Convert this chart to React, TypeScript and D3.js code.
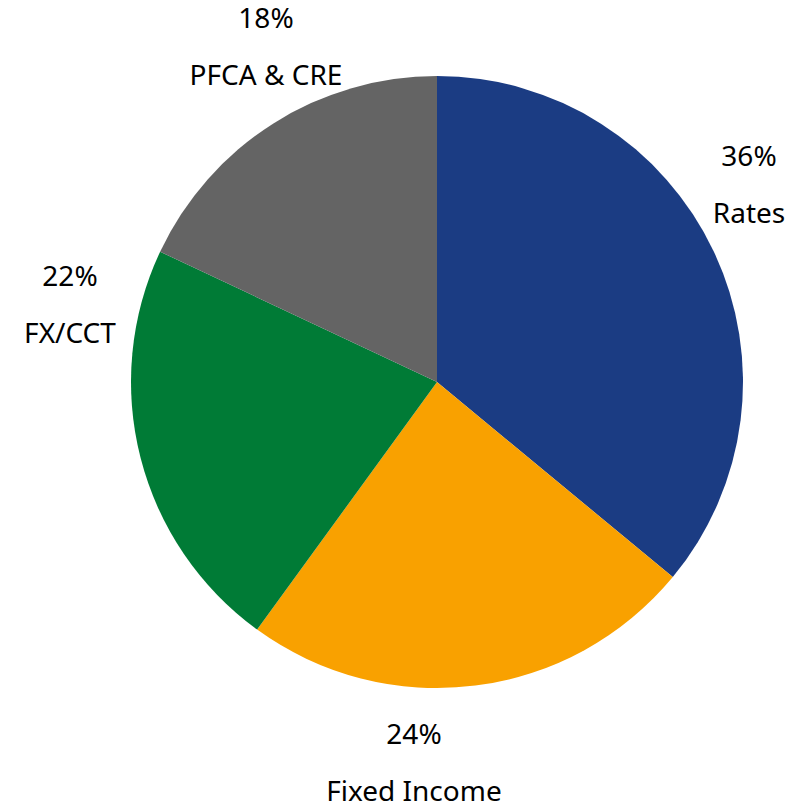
import React from "react";
import * as d3 from "d3";

// Share of total by business line (percent)
const categories = ["Rates", "Fixed Income", "FX/CCT", "PFCA & CRE"];
const shares = [36, 24, 22, 18];
const colors = ["#1B3C83", "#F9A100", "#007B36", "#646464"];

// Label block centres (x, y of the block middle) relative to the svg
const labelLayout: Record<string, [number, number]> = {
  "Rates": [749, 184],
  "Fixed Income": [414, 762],
  "FX/CCT": [70, 304],
  "PFCA & CRE": [266, 46],
};

const W = 798;
const H = 806;
const cx = 437;
const cy = 382;
const radius = 306;
const lineGap = 57;

export default function App() {
  const data = categories.map((name, i) => ({ name, value: shares[i], color: colors[i] }));
  const pie = d3
    .pie<{ name: string; value: number; color: string }>()
    .value((d) => d.value)
    .sort(null);
  const arc = d3
    .arc<d3.PieArcDatum<{ name: string; value: number; color: string }>>()
    .innerRadius(0)
    .outerRadius(radius);
  const arcs = pie(data);

  return (
    <svg
      width={W}
      height={H}
      style={{ position: "absolute", left: 0, top: 0, background: "#fff" }}
      fontFamily="'Noto Sans', 'Open Sans', sans-serif"
    >
      <g transform={`translate(${cx},${cy})`}>
        {arcs.map((a) => (
          <path key={a.data.name} d={arc(a) || ""} fill={a.data.color} />
        ))}
      </g>
      {arcs.map((a) => {
        const [lx, ly] = labelLayout[a.data.name];
        return (
          <g key={a.data.name} textAnchor="middle" fontSize={28} fill="#000">
            <text x={lx} y={ly - lineGap / 2 + 10}>{`${a.data.value}%`}</text>
            <text x={lx} y={ly + lineGap / 2 + 10}>{a.data.name}</text>
          </g>
        );
      })}
    </svg>
  );
}
